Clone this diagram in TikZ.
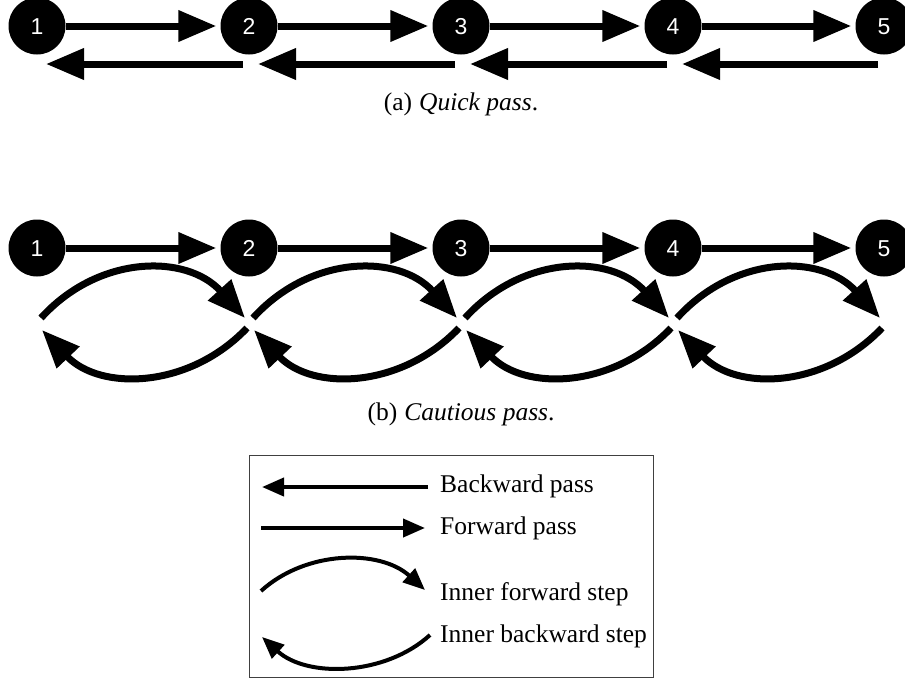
\documentclass[tikz,border=0pt]{standalone}
\usepackage{fontspec}
\setmainfont{Liberation Serif}
\newfontfamily\numfont{Liberation Sans}
\usetikzlibrary{arrows.meta}
\begin{document}
\begin{tikzpicture}[x=1pt,y=-1pt,
  stage/.style={circle,fill=black,minimum size=57pt,inner sep=0pt,text=white,text height=16.5pt,text depth=0pt,font=\numfont\fontsize{23}{23}\selectfont},
  bigarrow/.style={line width=7pt,-{Triangle[length=38pt,width=30pt]}},
  smallarrow/.style={line width=4pt,-{Triangle[length=22pt,width=18pt]}},
  captext/.style={anchor=base,font=\fontsize{25.5}{30}\selectfont},
  legtext/.style={anchor=base west,font=\fontsize{25.5}{30}\selectfont,inner sep=0pt},
  legbox/.style={draw=black!75,line width=1pt}]
\useasboundingbox (0,0) rectangle (905,689);
\foreach \i/\x in {1/37,2/249,3/461,4/673,5/884}{
  \node[stage] (a\i) at (\x,26) {\i};
  \node[stage] (b\i) at (\x,248) {\i};
}
\foreach \i/\j in {1/2,2/3,3/4,4/5}{
  \draw[bigarrow,shorten >=4pt] (a\i.east) -- (a\j.west);
  \draw[bigarrow] ([shift={(-6,38)}]a\j.center) -- ([shift={(9,38)}]a\i.center);
  \draw[bigarrow,shorten >=4pt] (b\i.east) -- (b\j.west);
  \draw[bigarrow] ([shift={(4,70)}]b\i.center) .. controls +(58,-64) and +(-58,-64) .. ([shift={(-4,70)}]b\j.center);
  \draw[bigarrow] ([shift={(-2,80)}]b\j.center) .. controls +(-58,61) and +(58,61) .. ([shift={(5,82)}]b\i.center);
}
\node[captext] (capa) at (461,110) {(a)\hspace{7pt}\textit{Quick pass}.};
\node[captext] (capb) at (461,420) {(b)\hspace{7pt}\textit{Cautious pass}.};
% legend
\node[legbox,minimum width=404pt,minimum height=222pt,anchor=north west] (leg) at (249,455) {};
\coordinate (l1s) at (428,487); \coordinate (l1e) at (262,487);
\coordinate (l2s) at (261,528); \coordinate (l2e) at (425,528);
\coordinate (l3s) at (261,591); \coordinate (l3e) at (425,590);
\coordinate (l4s) at (430,635); \coordinate (l4e) at (262,637);
\draw[smallarrow] (l1s) -- (l1e);
\draw[smallarrow] (l2s) -- (l2e);
\draw[smallarrow] (l3s) .. controls +(45,-41) and +(-45,-41) .. (l3e);
\draw[smallarrow] (l4s) .. controls +(-45,41) and +(45,41) .. (l4e);
\node[legtext] (t1) at (440,492) {Backward pass};
\node[legtext] (t2) at (440,534) {Forward pass};
\node[legtext] (t3) at (440,600) {Inner forward step};
\node[legtext] (t4) at (440,642) {Inner backward step};
\end{tikzpicture}
\end{document}
